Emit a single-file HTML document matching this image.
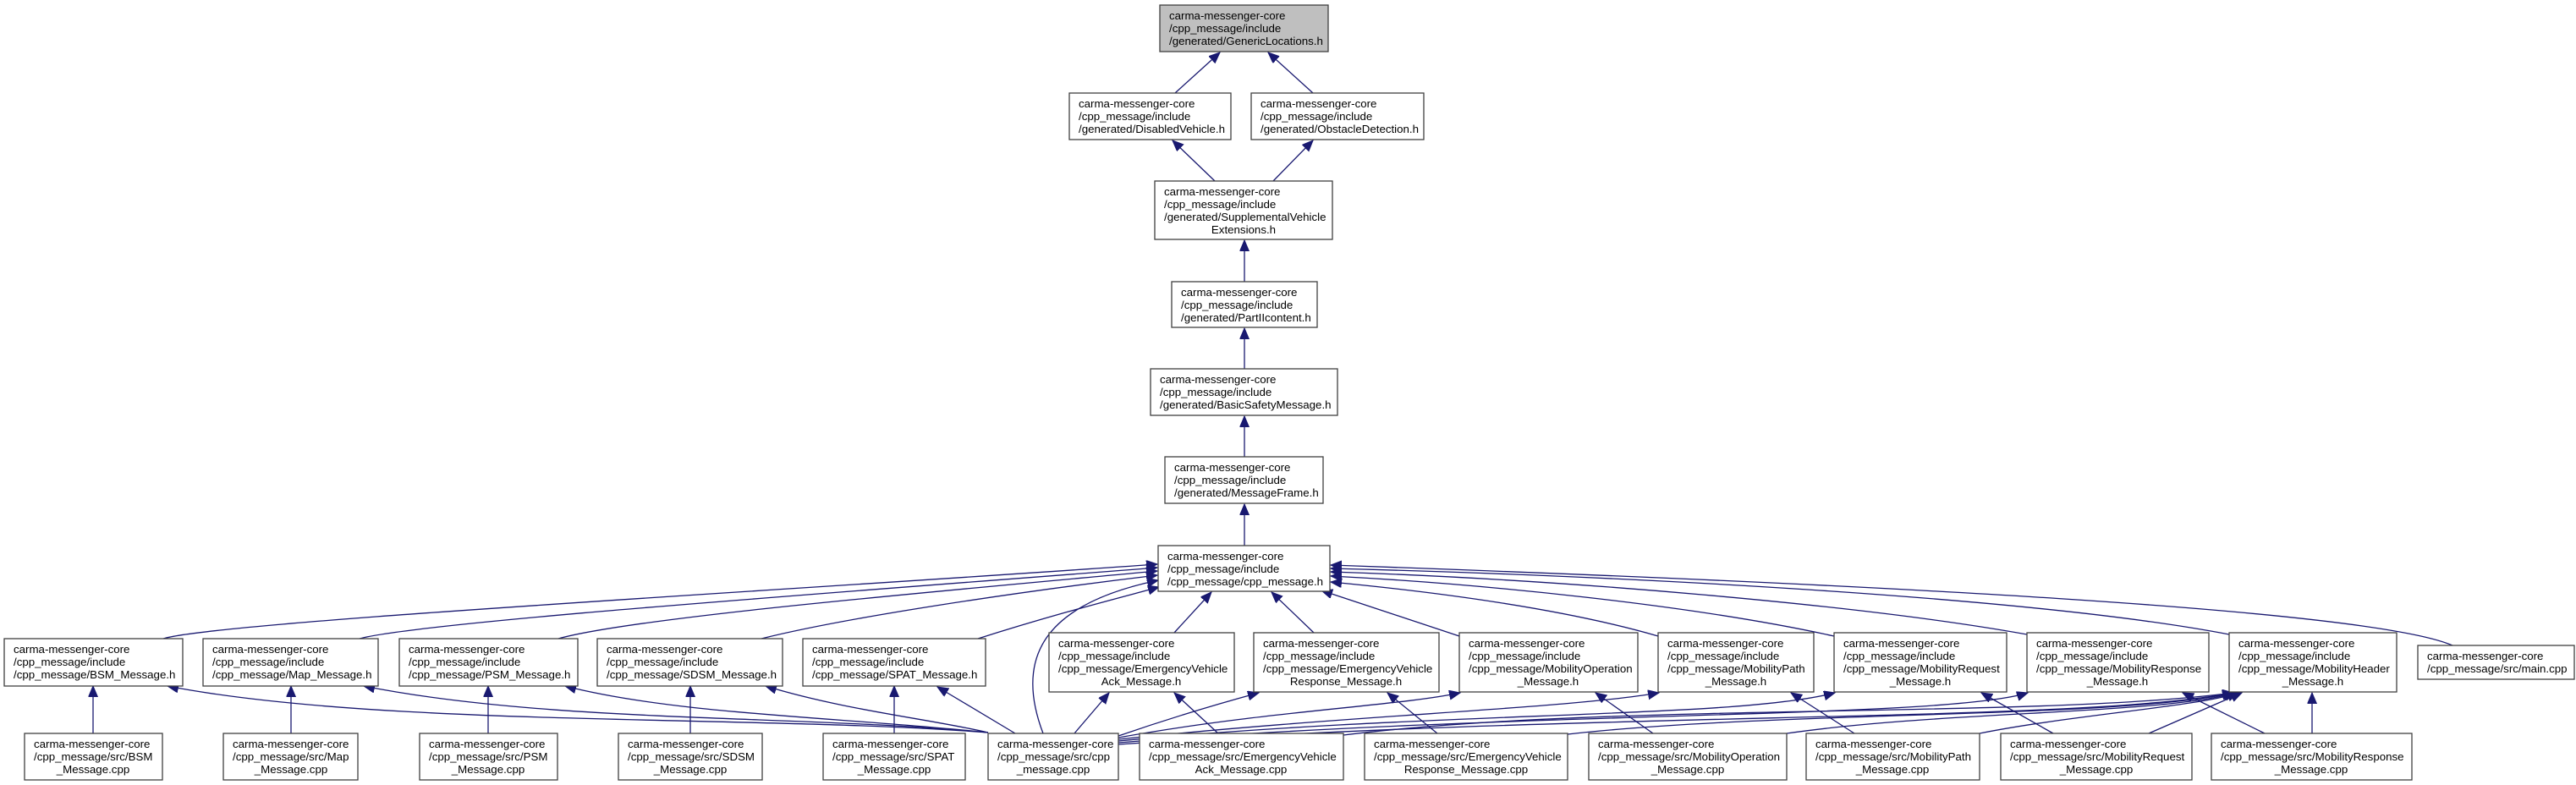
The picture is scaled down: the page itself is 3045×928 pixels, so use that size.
<!DOCTYPE html>
<html><head><meta charset="utf-8"><style>
html,body{margin:0;padding:0;background:#fff;}
svg{display:block;}
text{font-family:"Liberation Sans",Arial,sans-serif;font-size:13.3px;fill:#000;}
.b{fill:#fff;stroke:#404040;stroke-width:1.3;}
.e{fill:none;stroke:#191970;stroke-width:1.3;marker-end:url(#a);}
</style></head><body>
<svg width="3045" height="928" viewBox="0 0 3045 928" xmlns="http://www.w3.org/2000/svg">
<defs><marker id="a" markerUnits="userSpaceOnUse" markerWidth="14" markerHeight="12" refX="13" refY="5.5" orient="auto"><path d="M0,0 L13,5.5 L0,11 z" fill="#191970" stroke="#191970"/></marker></defs>

<!-- edges top chain -->
<path class="e" d="M1389,110 L1442,62"/>
<path class="e" d="M1552,110 L1499,62"/>
<path class="e" d="M1436,214 L1386,166"/>
<path class="e" d="M1505,214 L1552,166"/>
<path class="e" d="M1471,333 L1471,284"/>
<path class="e" d="M1471,436 L1471,388"/>
<path class="e" d="M1471,540 L1471,492"/>
<path class="e" d="M1471,645 L1471,596"/>

<!-- to cpp_message.h -->
<path class="e" d="M193,755 C260,735 900,700 1368,667"/>
<path class="e" d="M425,755 C500,735 1000,700 1368,671"/>
<path class="e" d="M660,755 C750,730 1100,700 1368,675"/>
<path class="e" d="M900,755 C1000,730 1200,700 1368,680"/>
<path class="e" d="M1156,755 C1250,725 1330,705 1370,694"/>
<path class="e" d="M1233,867 C1200,780 1230,715 1369,686"/>
<path class="e" d="M1388,748 L1432,700"/>
<path class="e" d="M1553,748 L1503,700"/>
<path class="e" d="M1725,752 L1562,698"/>
<path class="e" d="M1960,752 C1850,720 1700,700 1573,688"/>
<path class="e" d="M2168,752 C2000,715 1750,690 1573,681"/>
<path class="e" d="M2396,750 C2200,715 1850,685 1573,676"/>
<path class="e" d="M2635,750 C2400,705 1900,680 1573,672"/>
<path class="e" d="M2899,763 C2800,720 2200,690 1573,668"/>

<!-- lower edges -->
<path class="e" d="M110,867 L110,811"/>
<path class="e" d="M1168,866 C900,845 450,860 198,811"/>
<path class="e" d="M344,867 L344,811"/>
<path class="e" d="M1168,866 C950,845 650,855 430,811"/>
<path class="e" d="M577,867 L577,811"/>
<path class="e" d="M1168,866 C1000,848 800,845 668,811"/>
<path class="e" d="M816,867 L816,811"/>
<path class="e" d="M1168,866 C1100,850 1000,840 905,811"/>
<path class="e" d="M1057,867 L1057,811"/>
<path class="e" d="M1200,867 L1108,812"/>
<path class="e" d="M1270,867 L1311,819"/>
<path class="e" d="M1440,867 L1388,819"/>
<path class="e" d="M1322,870 C1380,850 1440,832 1488,819"/>
<path class="e" d="M1699,867 L1640,819"/>
<path class="e" d="M1322,872 C1500,840 1650,835 1726,819"/>
<path class="e" d="M1954,867 L1886,819"/>
<path class="e" d="M1322,874 C1600,845 1850,838 1961,819"/>
<path class="e" d="M2192,867 L2117,819"/>
<path class="e" d="M1322,876 C1700,840 2050,850 2169,819"/>
<path class="e" d="M2427,867 L2342,819"/>
<path class="e" d="M1322,878 C1800,840 2300,850 2397,819"/>
<path class="e" d="M2677,867 L2580,819"/>
<path class="e" d="M1322,880 C1900,840 2450,855 2640,819"/>
<path class="e" d="M1588,869 C1900,830 2400,850 2640,819"/>
<path class="e" d="M1853,868 C2100,840 2500,850 2641,819"/>
<path class="e" d="M2112,867 C2300,840 2550,845 2643,819"/>
<path class="e" d="M2340,867 C2450,845 2600,835 2646,819"/>
<path class="e" d="M2540,867 L2650,819"/>
<path class="e" d="M2733,867 L2733,819"/>

<!-- nodes -->
<rect x="1371" y="6" width="199" height="55" fill="#bfbfbf" stroke="#404040" stroke-width="1.3"/>
<text x="1382" y="23">carma-messenger-core</text><text x="1382" y="38">/cpp_message/include</text><text x="1382" y="53">/generated/GenericLocations.h</text>

<rect class="b" x="1264" y="110" width="191" height="55"/>
<text x="1275" y="127">carma-messenger-core</text><text x="1275" y="142">/cpp_message/include</text><text x="1275" y="157">/generated/DisabledVehicle.h</text>

<rect class="b" x="1479" y="110" width="204" height="55"/>
<text x="1490" y="127">carma-messenger-core</text><text x="1490" y="142">/cpp_message/include</text><text x="1490" y="157">/generated/ObstacleDetection.h</text>

<rect class="b" x="1365" y="214" width="210" height="69"/>
<text x="1376" y="231">carma-messenger-core</text><text x="1376" y="246">/cpp_message/include</text><text x="1376" y="261">/generated/SupplementalVehicle</text><text x="1470" y="276" text-anchor="middle">Extensions.h</text>

<rect class="b" x="1385" y="333" width="172" height="54"/>
<text x="1396" y="350">carma-messenger-core</text><text x="1396" y="365">/cpp_message/include</text><text x="1396" y="380">/generated/PartIIcontent.h</text>

<rect class="b" x="1360" y="436" width="221" height="55"/>
<text x="1371" y="453">carma-messenger-core</text><text x="1371" y="468">/cpp_message/include</text><text x="1371" y="483">/generated/BasicSafetyMessage.h</text>

<rect class="b" x="1377" y="540" width="187" height="55"/>
<text x="1388" y="557">carma-messenger-core</text><text x="1388" y="572">/cpp_message/include</text><text x="1388" y="587">/generated/MessageFrame.h</text>

<rect class="b" x="1369" y="645" width="203" height="54"/>
<text x="1380" y="662">carma-messenger-core</text><text x="1380" y="677">/cpp_message/include</text><text x="1380" y="692">/cpp_message/cpp_message.h</text>

<!-- 3-line headers -->
<rect class="b" x="5" y="755" width="211" height="56"/>
<text x="16" y="772">carma-messenger-core</text><text x="16" y="787">/cpp_message/include</text><text x="16" y="802">/cpp_message/BSM_Message.h</text>
<rect class="b" x="240" y="755" width="207" height="56"/>
<text x="251" y="772">carma-messenger-core</text><text x="251" y="787">/cpp_message/include</text><text x="251" y="802">/cpp_message/Map_Message.h</text>
<rect class="b" x="472" y="755" width="211" height="56"/>
<text x="483" y="772">carma-messenger-core</text><text x="483" y="787">/cpp_message/include</text><text x="483" y="802">/cpp_message/PSM_Message.h</text>
<rect class="b" x="706" y="755" width="219" height="56"/>
<text x="717" y="772">carma-messenger-core</text><text x="717" y="787">/cpp_message/include</text><text x="717" y="802">/cpp_message/SDSM_Message.h</text>
<rect class="b" x="949" y="755" width="216" height="56"/>
<text x="960" y="772">carma-messenger-core</text><text x="960" y="787">/cpp_message/include</text><text x="960" y="802">/cpp_message/SPAT_Message.h</text>

<!-- 4-line headers -->
<rect class="b" x="1240" y="748" width="219" height="70"/>
<text x="1251" y="765">carma-messenger-core</text><text x="1251" y="780">/cpp_message/include</text><text x="1251" y="795">/cpp_message/EmergencyVehicle</text><text x="1349" y="810" text-anchor="middle">Ack_Message.h</text>
<rect class="b" x="1482" y="748" width="219" height="70"/>
<text x="1493" y="765">carma-messenger-core</text><text x="1493" y="780">/cpp_message/include</text><text x="1493" y="795">/cpp_message/EmergencyVehicle</text><text x="1591" y="810" text-anchor="middle">Response_Message.h</text>
<rect class="b" x="1725" y="748" width="211" height="70"/>
<text x="1736" y="765">carma-messenger-core</text><text x="1736" y="780">/cpp_message/include</text><text x="1736" y="795">/cpp_message/MobilityOperation</text><text x="1830" y="810" text-anchor="middle">_Message.h</text>
<rect class="b" x="1960" y="748" width="184" height="70"/>
<text x="1971" y="765">carma-messenger-core</text><text x="1971" y="780">/cpp_message/include</text><text x="1971" y="795">/cpp_message/MobilityPath</text><text x="2052" y="810" text-anchor="middle">_Message.h</text>
<rect class="b" x="2168" y="748" width="204" height="70"/>
<text x="2179" y="765">carma-messenger-core</text><text x="2179" y="780">/cpp_message/include</text><text x="2179" y="795">/cpp_message/MobilityRequest</text><text x="2270" y="810" text-anchor="middle">_Message.h</text>
<rect class="b" x="2396" y="748" width="215" height="70"/>
<text x="2407" y="765">carma-messenger-core</text><text x="2407" y="780">/cpp_message/include</text><text x="2407" y="795">/cpp_message/MobilityResponse</text><text x="2503" y="810" text-anchor="middle">_Message.h</text>
<rect class="b" x="2635" y="748" width="198" height="70"/>
<text x="2646" y="765">carma-messenger-core</text><text x="2646" y="780">/cpp_message/include</text><text x="2646" y="795">/cpp_message/MobilityHeader</text><text x="2734" y="810" text-anchor="middle">_Message.h</text>

<rect class="b" x="2858" y="763" width="185" height="40"/>
<text x="2869" y="780">carma-messenger-core</text><text x="2869" y="795">/cpp_message/src/main.cpp</text>

<!-- bottom cpp -->
<rect class="b" x="29" y="867" width="163" height="55"/>
<text x="40" y="884">carma-messenger-core</text><text x="40" y="899">/cpp_message/src/BSM</text><text x="110" y="914" text-anchor="middle">_Message.cpp</text>
<rect class="b" x="264" y="867" width="159" height="55"/>
<text x="275" y="884">carma-messenger-core</text><text x="275" y="899">/cpp_message/src/Map</text><text x="344" y="914" text-anchor="middle">_Message.cpp</text>
<rect class="b" x="496" y="867" width="163" height="55"/>
<text x="507" y="884">carma-messenger-core</text><text x="507" y="899">/cpp_message/src/PSM</text><text x="577" y="914" text-anchor="middle">_Message.cpp</text>
<rect class="b" x="731" y="867" width="170" height="55"/>
<text x="742" y="884">carma-messenger-core</text><text x="742" y="899">/cpp_message/src/SDSM</text><text x="816" y="914" text-anchor="middle">_Message.cpp</text>
<rect class="b" x="973" y="867" width="168" height="55"/>
<text x="984" y="884">carma-messenger-core</text><text x="984" y="899">/cpp_message/src/SPAT</text><text x="1057" y="914" text-anchor="middle">_Message.cpp</text>
<rect class="b" x="1168" y="867" width="154" height="55"/>
<text x="1179" y="884">carma-messenger-core</text><text x="1179" y="899">/cpp_message/src/cpp</text><text x="1245" y="914" text-anchor="middle">_message.cpp</text>
<rect class="b" x="1347" y="867" width="241" height="55"/>
<text x="1358" y="884">carma-messenger-core</text><text x="1358" y="899">/cpp_message/src/EmergencyVehicle</text><text x="1467" y="914" text-anchor="middle">Ack_Message.cpp</text>
<rect class="b" x="1613" y="867" width="240" height="55"/>
<text x="1624" y="884">carma-messenger-core</text><text x="1624" y="899">/cpp_message/src/EmergencyVehicle</text><text x="1733" y="914" text-anchor="middle">Response_Message.cpp</text>
<rect class="b" x="1878" y="867" width="234" height="55"/>
<text x="1889" y="884">carma-messenger-core</text><text x="1889" y="899">/cpp_message/src/MobilityOperation</text><text x="1995" y="914" text-anchor="middle">_Message.cpp</text>
<rect class="b" x="2135" y="867" width="205" height="55"/>
<text x="2146" y="884">carma-messenger-core</text><text x="2146" y="899">/cpp_message/src/MobilityPath</text><text x="2237" y="914" text-anchor="middle">_Message.cpp</text>
<rect class="b" x="2365" y="867" width="226" height="55"/>
<text x="2376" y="884">carma-messenger-core</text><text x="2376" y="899">/cpp_message/src/MobilityRequest</text><text x="2478" y="914" text-anchor="middle">_Message.cpp</text>
<rect class="b" x="2614" y="867" width="237" height="55"/>
<text x="2625" y="884">carma-messenger-core</text><text x="2625" y="899">/cpp_message/src/MobilityResponse</text><text x="2732" y="914" text-anchor="middle">_Message.cpp</text>
</svg>
</body></html>
